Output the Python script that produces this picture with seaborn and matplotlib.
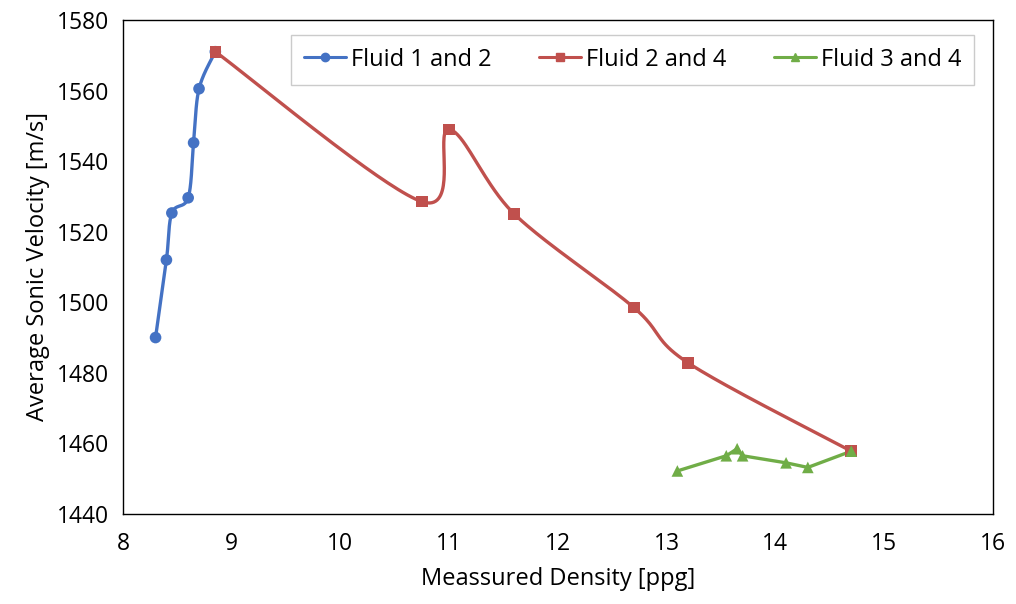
import numpy as np
import pandas as pd
import matplotlib
matplotlib.use("Agg")
import matplotlib.pyplot as plt
import seaborn as sns

# Data
fluid12_x = [8.3, 8.4, 8.45, 8.6, 8.65, 8.7, 8.85]
fluid12_y = [1490.0, 1512.0, 1525.3, 1529.6, 1545.2, 1560.5, 1571.0]

fluid24_x = [8.85, 10.75, 11.0, 11.6, 12.7, 13.2, 14.7]
fluid24_y = [1571.0, 1528.5, 1549.0, 1525.0, 1498.5, 1482.8, 1457.8]

fluid34_x = [13.1, 13.55, 13.65, 13.7, 14.1, 14.3, 14.7]
fluid34_y = [1452.2, 1456.5, 1458.5, 1456.5, 1454.5, 1453.2, 1457.8]

labels = ["Fluid 1 and 2", "Fluid 2 and 4", "Fluid 3 and 4"]
colors = ["#4472C4", "#C0504D", "#70AD47"]
markers = ["o", "s", "^"]
smooth = [True, True, False]


def smooth_curve(x, y, n=40):
    """Catmull-Rom (Excel-like) smoothing through the given points."""
    p = np.column_stack([x, y]).astype(float)
    ext = np.vstack([p[0], p, p[-1]])
    out = []
    for i in range(1, len(ext) - 2):
        p0, p1, p2, p3 = ext[i - 1], ext[i], ext[i + 1], ext[i + 2]
        c1 = p1 + (p2 - p0) / 6.0
        c2 = p2 - (p3 - p1) / 6.0
        t = np.linspace(0, 1, n)[:, None]
        seg = ((1 - t) ** 3) * p1 + 3 * ((1 - t) ** 2) * t * c1 + 3 * (1 - t) * t ** 2 * c2 + t ** 3 * p2
        out.append(seg if i == 1 else seg[1:])
    c = np.vstack(out)
    return c[:, 0], c[:, 1]


sns.set_theme(style="white")
plt.rcParams["font.family"] = ["Open Sans", "DejaVu Sans"]
plt.rcParams["text.color"] = "black"
plt.rcParams["axes.labelcolor"] = "black"
plt.rcParams["xtick.color"] = "black"
plt.rcParams["ytick.color"] = "black"

fig = plt.figure(figsize=(10.16, 6.04), dpi=100)
ax = fig.add_axes([0.121, 0.149, 0.856, 0.818])

series = [(fluid12_x, fluid12_y), (fluid24_x, fluid24_y), (fluid34_x, fluid34_y)]
handles = []
for (xs, ys), lab, col, mk, sm in zip(series, labels, colors, markers, smooth):
    if sm:
        cx, cy = smooth_curve(xs, ys)
    else:
        cx, cy = np.array(xs), np.array(ys)
    sns.lineplot(x=cx, y=cy, sort=False, ax=ax, color=col, linewidth=2.4, estimator=None)
    sns.scatterplot(x=xs, y=ys, ax=ax, color=col, marker=mk, s=70, edgecolor="none", zorder=3)
    h, = ax.plot([], [], color=col, marker=mk, markersize=6, linewidth=2.2, label=lab)
    handles.append(h)

ax.set_xlim(8, 16)
ax.set_ylim(1440, 1580)
ax.set_xticks(np.arange(8, 17, 1))
ax.set_yticks(np.arange(1440, 1581, 20))
ax.tick_params(axis="both", direction="out", length=5, width=1, color="black", labelsize=16.5, pad=5)
ax.tick_params(axis="x", pad=8)
for s in ax.spines.values():
    s.set_color("black")
    s.set_linewidth(1)
ax.set_xlabel("Meassured Density [ppg]", fontsize=17, labelpad=8)
ax.set_ylabel("Average Sonic Velocity [m/s]", fontsize=17, labelpad=5)

leg = ax.legend(handles=handles, loc="upper right", ncol=3, fontsize=17, frameon=True,
                fancybox=False, edgecolor="#bfbfbf", bbox_to_anchor=(0.979, 0.970),
                borderaxespad=0, handlelength=1.8, handletextpad=0.2, columnspacing=2.0,
                borderpad=0.55)
leg.get_frame().set_linewidth(1)

fig.savefig("out.png", dpi=100)
